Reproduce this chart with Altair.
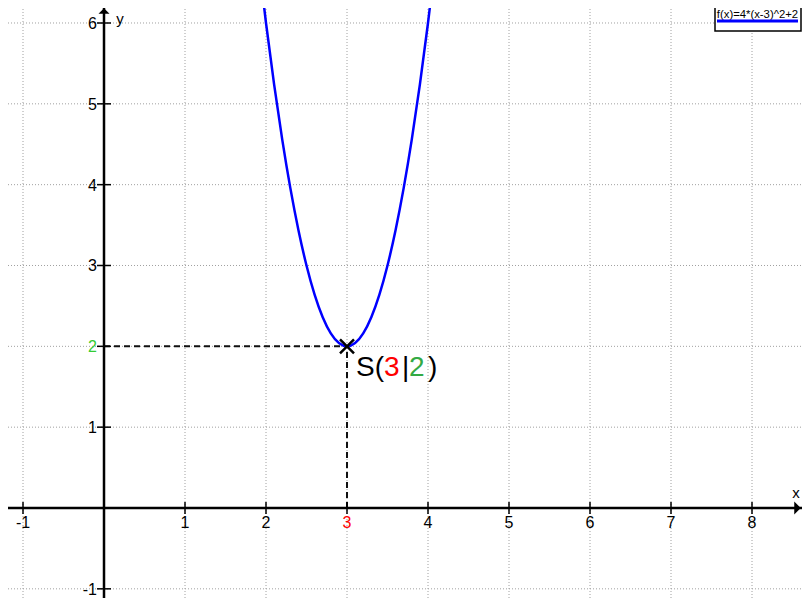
import altair as alt
import pandas as pd

# ---- data ----
X_DOMAIN = [-1.284, 8.716]
Y_DOMAIN = [-1.2124, 6.2845]
GRID_X = [-1, 0, 1, 2, 3, 4, 5, 6, 7, 8]
GRID_Y = [-1, 0, 1, 2, 3, 4, 5, 6]
X_TICKS = [-1, 1, 2, 3, 4, 5, 6, 7, 8]
X_LABELS = ["-1", "1", "2", "3", "4", "5", "6", "7", "8"]
Y_TICKS = [-1, 1, 2, 3, 4, 5, 6]
Y_LABELS = ["-1", "1", "2", "3", "4", "5", "6"]
CURVE_X = [1.9, 2.0, 2.1, 2.2, 2.3, 2.4, 2.5, 2.6, 2.7, 2.8, 2.9, 3.0,
           3.1, 3.2, 3.3, 3.4, 3.5, 3.6, 3.7, 3.8, 3.9, 4.0, 4.1]
CURVE_Y = [6.84, 6.0, 5.24, 4.56, 3.96, 3.44, 3.0, 2.64, 2.36, 2.16, 2.04, 2.0,
           2.04, 2.16, 2.36, 2.64, 3.0, 3.44, 3.96, 4.56, 5.24, 6.0, 6.84]
VERTEX_X = 3
VERTEX_Y = 2
LEGEND_LABEL = "f(x)=4*(x-3)^2+2"
VERTEX_PARTS = ["S(", "3", "|", "2", ")"]
X_TITLE = "x"
Y_TITLE = "y"

FONT = "Liberation Sans"
RED = "#ff0000"
GREEN_AXIS = "#33cc33"
GREEN_TEXT = "#33aa44"

xs = alt.Scale(domain=X_DOMAIN, nice=False, zero=False)
ys = alt.Scale(domain=Y_DOMAIN, nice=False, zero=False)


def X(f):
    return alt.X(f, type="quantitative", scale=xs, axis=None)


def Y(f):
    return alt.Y(f, type="quantitative", scale=ys, axis=None)


gx = pd.DataFrame({"v": GRID_X})
gy = pd.DataFrame({"v": GRID_Y})
xt = pd.DataFrame({"v": X_TICKS, "lab": X_LABELS, "zero": [0] * len(X_TICKS)})
yt = pd.DataFrame({"v": Y_TICKS, "lab": Y_LABELS, "zero": [0] * len(Y_TICKS)})
curve = pd.DataFrame({"x": CURVE_X, "y": CURVE_Y})
origin = pd.DataFrame({"o": [0], "xmax": [X_DOMAIN[1]], "ymax": [Y_DOMAIN[1]]})
vert = pd.DataFrame({"x": [VERTEX_X], "y": [VERTEX_Y], "o": [0]})
leg = pd.DataFrame({"label": [LEGEND_LABEL]})

grid_v = alt.Chart(gx).mark_rule(color="#a0a0a0", strokeWidth=1, strokeDash=[1, 2]).encode(x=X("v"))
grid_h = alt.Chart(gy).mark_rule(color="#a0a0a0", strokeWidth=1, strokeDash=[1, 2]).encode(y=Y("v"))

dash_h = alt.Chart(vert).mark_rule(color="#111111", strokeWidth=2, strokeDash=[6, 4]).encode(
    x=X("o"), x2="x", y=Y("y"))
dash_v = alt.Chart(vert).mark_rule(color="#111111", strokeWidth=2, strokeDash=[6, 4]).encode(
    y=Y("o"), y2="y", x=X("x"))

axis_x = alt.Chart(origin).mark_rule(color="black", strokeWidth=2.5).encode(y=Y("o"))
axis_y = alt.Chart(origin).mark_rule(color="black", strokeWidth=2.5).encode(x=X("o"))

arrow_x = alt.Chart(origin).mark_point(
    shape="M-0.5,-1L0.5,0L-0.5,1Z", size=169, filled=True, color="black", opacity=1, xOffset=-12.5
).encode(x=X("xmax"), y=Y("o"))
arrow_y = alt.Chart(origin).mark_point(
    shape="M-1,0.5L0,-0.5L1,0.5Z", size=121, filled=True, color="black", opacity=1, yOffset=11
).encode(x=X("o"), y=Y("ymax"))

tick_x = alt.Chart(xt).mark_tick(orient="vertical", size=12, thickness=1.5, color="black", opacity=1).encode(
    x=X("v"), y=Y("zero"))
tick_y = alt.Chart(yt).mark_tick(orient="horizontal", size=14, thickness=1.5, color="black", opacity=1).encode(
    y=Y("v"), x=X("zero"))

lab_x = alt.Chart(xt).transform_filter(f"datum.v != {VERTEX_X}").mark_text(
    font=FONT, fontSize=16, align="center", baseline="alphabetic", dy=20, color="black"
).encode(x=X("v"), y=Y("zero"), text="lab:N")
lab_x_hi = alt.Chart(xt).transform_filter(f"datum.v == {VERTEX_X}").mark_text(
    font=FONT, fontSize=16, align="center", baseline="alphabetic", dy=20, color=RED
).encode(x=X("v"), y=Y("zero"), text="lab:N")
lab_y = alt.Chart(yt).transform_filter(f"datum.v != {VERTEX_Y}").mark_text(
    font=FONT, fontSize=16, align="right", baseline="alphabetic", dx=-7, dy=6, color="black"
).encode(y=Y("v"), x=X("zero"), text="lab:N")
lab_y_hi = alt.Chart(yt).transform_filter(f"datum.v == {VERTEX_Y}").mark_text(
    font=FONT, fontSize=16, align="right", baseline="alphabetic", dx=-7, dy=6, color=GREEN_AXIS
).encode(y=Y("v"), x=X("zero"), text="lab:N")

title_x = alt.Chart(origin).mark_text(
    font=FONT, fontSize=15, align="center", baseline="alphabetic", dx=-14, dy=-10, color="black"
).encode(x=X("xmax"), y=Y("o"), text=alt.value(X_TITLE))
title_y = alt.Chart(origin).mark_text(
    font=FONT, fontSize=15, align="center", baseline="alphabetic", dx=16, dy=24, color="black"
).encode(x=X("o"), y=Y("ymax"), text=alt.value(Y_TITLE))

line = alt.Chart(curve).mark_line(color="#0000ff", strokeWidth=2.5, interpolate="natural", clip=True).encode(
    x=X("x"), y=Y("y"), order="x:Q")

cross = alt.Chart(vert).mark_point(
    shape="M-1,-1L1,1M-1,1L1,-1", size=196, filled=False, color="black", strokeWidth=2.5, opacity=1
).encode(x=X("x"), y=Y("y"))

part_dx = [9, 37, 55, 62, 81]
part_col = ["black", RED, "black", GREEN_TEXT, "black"]
parts = []
for t, d, c in zip(VERTEX_PARTS, part_dx, part_col):
    parts.append(
        alt.Chart(vert).mark_text(
            font=FONT, fontSize=28, align="left", baseline="alphabetic", dx=d, dy=30, color=c
        ).encode(x=X("x"), y=Y("y"), text=alt.value(t))
    )

leg_box = alt.Chart(leg).mark_rect(fill="white", stroke="black", strokeWidth=1.5).encode(
    x=alt.value(715), x2=alt.value(801), y=alt.value(-2), y2=alt.value(31))
leg_text = alt.Chart(leg).mark_text(
    font=FONT, fontSize=11.3, align="center", baseline="alphabetic", color="black"
).encode(x=alt.value(757.5), y=alt.value(18), text="label:N")
leg_line = alt.Chart(leg).mark_rule(color="#0000ff", strokeWidth=3).encode(
    x=alt.value(717), x2=alt.value(798), y=alt.value(21))

chart = alt.layer(
    grid_v, grid_h, dash_h, dash_v, axis_x, axis_y, arrow_x, arrow_y, tick_x, tick_y,
    lab_x, lab_x_hi, lab_y, lab_y_hi, title_x, title_y, line, cross, *parts,
    leg_box, leg_text, leg_line
).properties(
    width=810, height=606,
    padding={"left": -8, "top": -8, "right": -8, "bottom": -8},
    autosize=alt.AutoSizeParams(type="none"),
    background="white",
).configure_view(strokeWidth=0)

chart.save("out.html", embed_options={"renderer": "svg", "actions": False})
